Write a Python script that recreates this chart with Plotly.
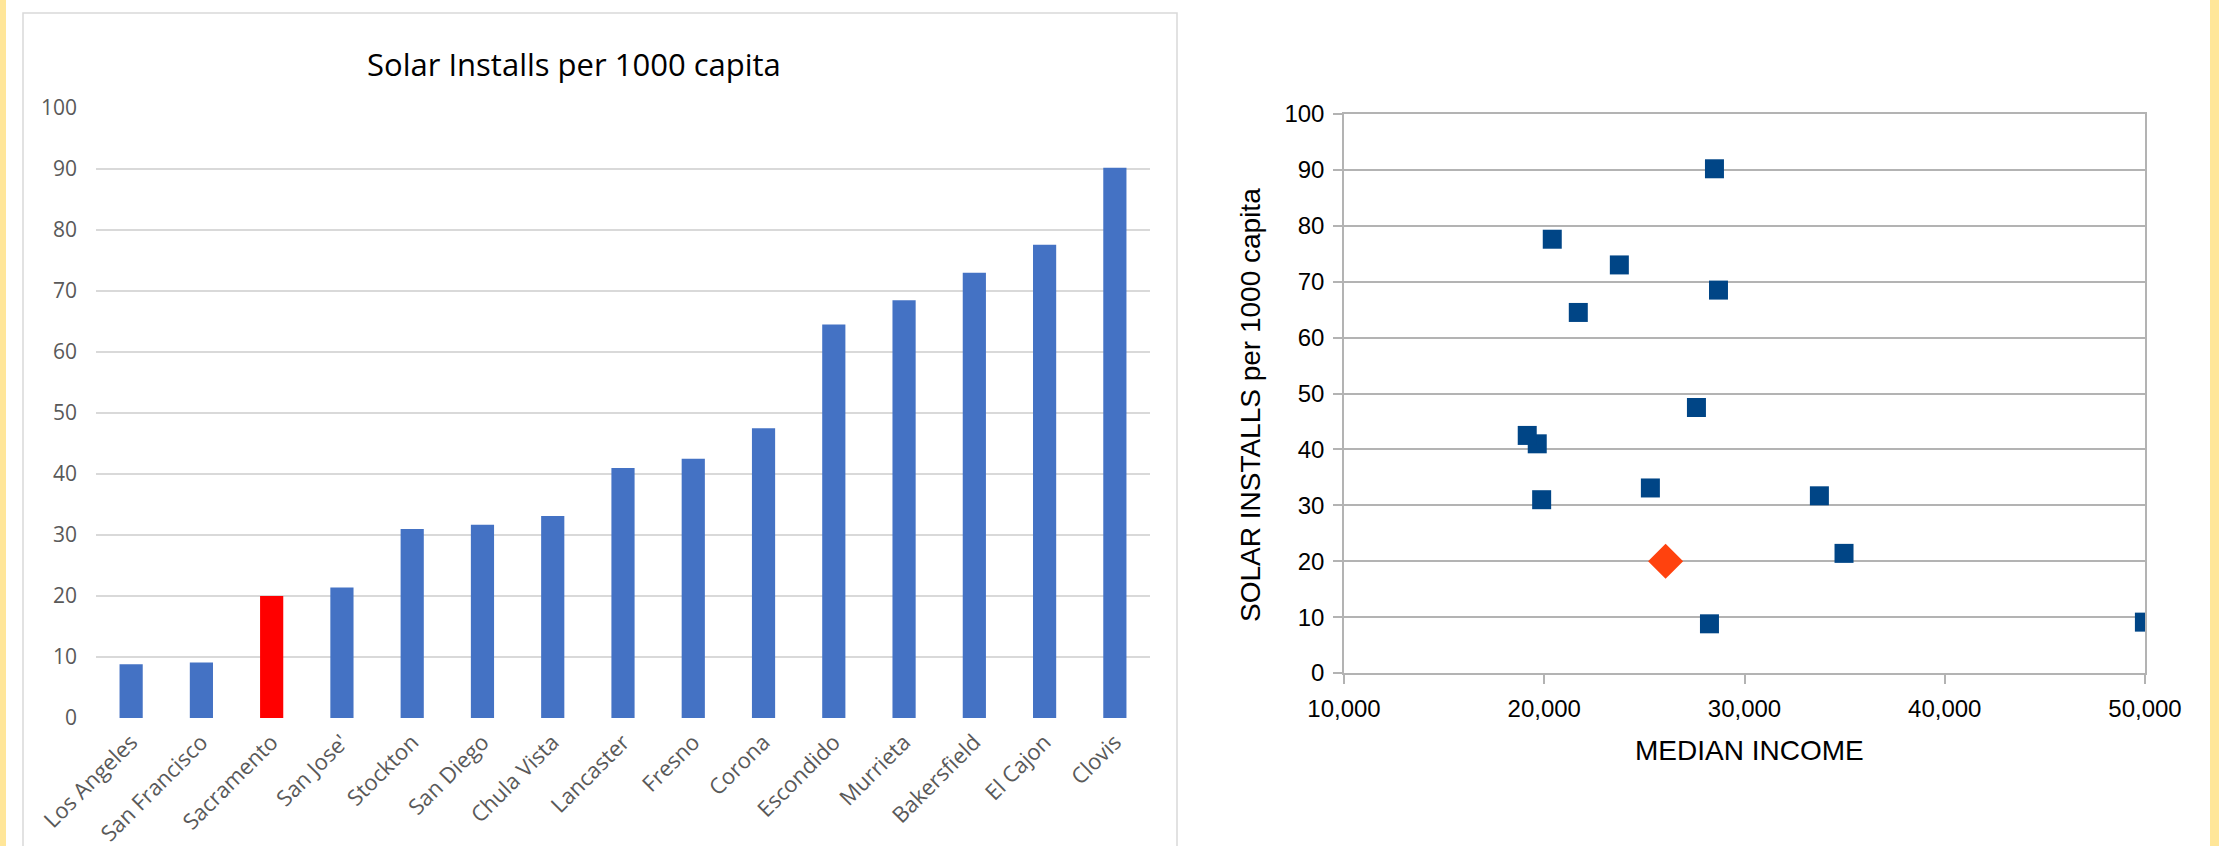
import plotly.graph_objects as go

W, H = 2219, 846

# ---------------- data ----------------
cities = ["Los Angeles", "San Francisco", "Sacramento", "San Jose'", "Stockton",
          "San Diego", "Chula Vista", "Lancaster", "Fresno", "Corona",
          "Escondido", "Murrieta", "Bakersfield", "El Cajon", "Clovis"]
installs_per_1000 = [8.8, 9.1, 20.0, 21.4, 31.0, 31.7, 33.1, 41.0, 42.5, 47.5,
                     64.5, 68.5, 73.0, 77.6, 90.2]
median_income = [28250, 49970, 26060, 34970, 19870, 33740, 25300, 19650, 19150,
                 27600, 21700, 28700, 23750, 20400, 28500]
highlight_city = "Sacramento"

bar_title = "Solar Installs per 1000 capita"
scatter_x_title = "MEDIAN INCOME"
scatter_y_title = "SOLAR INSTALLS per 1000 capita"
y_ticks = [0, 10, 20, 30, 40, 50, 60, 70, 80, 90, 100]
x_ticks = [10000, 20000, 30000, 40000, 50000]

# ---------------- styles ----------------
BAR_BLUE = "#4472c4"
BAR_RED = "#ff0000"
SQ_BLUE = "#004586"
DIA_RED = "#ff420e"
GRAY_TXT = "#595959"
YELLOW = "#ffe699"


def px(v):
    return v / W


def py(v):
    return 1 - v / H


bar_colors = [BAR_RED if c == highlight_city else BAR_BLUE for c in cities]

fig = go.Figure()

fig.add_trace(go.Bar(
    x=cities, y=installs_per_1000, marker=dict(color=bar_colors, line=dict(width=0)),
    xaxis="x", yaxis="y", showlegend=False, hoverinfo="x+y"))

sq_x = [m for c, m in zip(cities, median_income) if c != highlight_city]
sq_y = [v for c, v in zip(cities, installs_per_1000) if c != highlight_city]
hi_x = [m for c, m in zip(cities, median_income) if c == highlight_city]
hi_y = [v for c, v in zip(cities, installs_per_1000) if c == highlight_city]

fig.add_trace(go.Scatter(
    x=sq_x, y=sq_y, mode="markers", xaxis="x2", yaxis="y2",
    marker=dict(symbol="square", size=19, color=SQ_BLUE, line=dict(width=0)),
    showlegend=False))
fig.add_trace(go.Scatter(
    x=hi_x, y=hi_y, mode="markers", xaxis="x2", yaxis="y2",
    marker=dict(symbol="diamond", size=27, color=DIA_RED, line=dict(width=0)),
    showlegend=False))

fig.update_layout(
    width=W, height=H, autosize=False,
    margin=dict(l=0, r=0, t=0, b=0, pad=0, autoexpand=False),
    paper_bgcolor="white", plot_bgcolor="white",
    bargap=0.67,
    xaxis=dict(
        domain=[px(96), px(1150)], type="category", range=[-0.5, 14.5],
        showgrid=False, showline=False, zeroline=False, ticks="",
        tickangle=-45, ticklabelstandoff=6, automargin=False,
        tickfont=dict(family="Open Sans", size=22, color=GRAY_TXT),
        fixedrange=True),
    yaxis=dict(
        domain=[py(718), py(108)], range=[0, 100], tickvals=y_ticks,
        showgrid=True, gridcolor="#d9d9d9", gridwidth=1.5, automargin=False,
        showline=False, zeroline=False, ticks="", ticklabelstandoff=18,
        tickfont=dict(family="Open Sans", size=21, color=GRAY_TXT),
        fixedrange=True),
    xaxis2=dict(
        domain=[px(1344), px(2145)], range=[10000, 50000], tickvals=x_ticks,
        tickformat=",", anchor="y2", automargin=False,
        showgrid=False, zeroline=False,
        showline=True, mirror=True, linecolor="#b3b3b3", linewidth=1.5,
        ticks="outside", ticklen=9, tickcolor="#b3b3b3", tickwidth=1.5,
        ticklabelstandoff=4,
        tickfont=dict(family="Liberation Sans", size=24, color="#000000"),
        fixedrange=True),
    yaxis2=dict(
        domain=[py(673), py(114)], range=[0, 100], tickvals=y_ticks, anchor="x2",
        showgrid=True, gridcolor="#b3b3b3", gridwidth=1.5, zeroline=False,
        showline=True, mirror=True, linecolor="#b3b3b3", linewidth=1.5,
        ticks="outside", ticklen=9, tickcolor="#b3b3b3", tickwidth=1.5,
        ticklabelstandoff=4, automargin=False,
        tickfont=dict(family="Liberation Sans", size=24, color="#000000"),
        fixedrange=True),
    shapes=[
        dict(type="rect", xref="paper", yref="paper", x0=px(23), x1=px(1177),
             y0=py(900), y1=py(13), line=dict(color="#d9d9d9", width=1.5),
             fillcolor="rgba(0,0,0,0)", layer="below"),
        dict(type="rect", xref="paper", yref="paper", x0=0, x1=px(6),
             y0=0, y1=1, line=dict(width=0), fillcolor=YELLOW),
        dict(type="rect", xref="paper", yref="paper", x0=px(2210), x1=1,
             y0=0, y1=1, line=dict(width=0), fillcolor=YELLOW),
    ],
    annotations=[
        dict(text=bar_title, xref="paper", yref="paper", x=px(574), y=py(64),
             xanchor="center", yanchor="middle", showarrow=False,
             font=dict(family="Open Sans", size=31, color="#000000")),
        dict(text=scatter_x_title, xref="paper", yref="paper", x=px(1749), y=py(750),
             xanchor="center", yanchor="middle", showarrow=False,
             font=dict(family="Liberation Sans", size=28, color="#000000")),
        dict(text=scatter_y_title, xref="paper", yref="paper", x=px(1250), y=py(405),
             xanchor="center", yanchor="middle", showarrow=False, textangle=-90,
             font=dict(family="Liberation Sans", size=28, color="#000000")),
    ],
)

fig.write_html(
    "out.html",
    config={"displayModeBar": False},
    post_script="document.body.style.margin='0';document.body.style.overflow='hidden';",
)
